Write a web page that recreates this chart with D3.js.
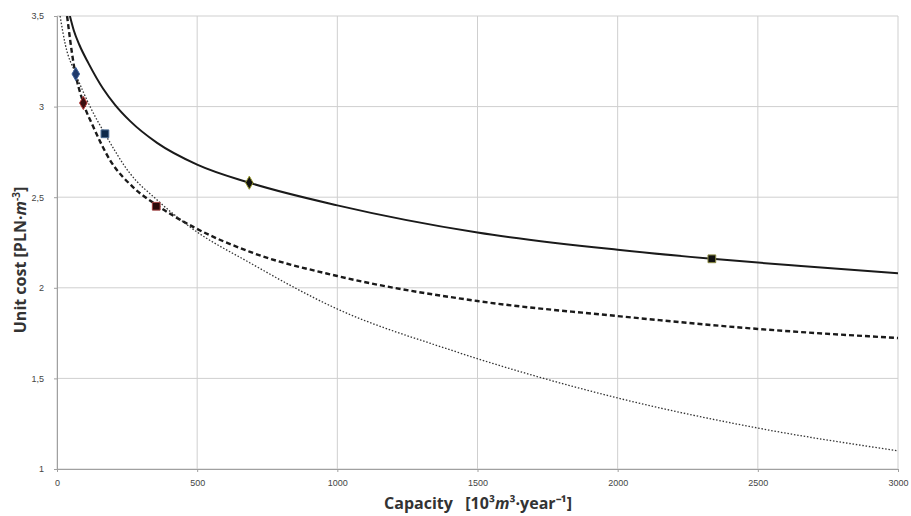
<!DOCTYPE html>
<html>
<head>
<meta charset="utf-8">
<script src="https://cdn.jsdelivr.net/npm/d3@7"></script>
<style>
body { margin: 0; background: #fff; }
svg { font-family: "Open Sans", "Liberation Sans", sans-serif; }
</style>
</head>
<body>
<svg></svg>
<script>
// Chart values
const xTicks = [0, 500, 1000, 1500, 2000, 2500, 3000];
const yTicks = [1, 1.5, 2, 2.5, 3, 3.5];

const solidX = [46, 60, 80, 112, 164, 207, 261, 357, 500, 686, 1000, 1500, 2000, 2336, 2654, 3000];
const solidY = [3.5, 3.42, 3.34, 3.24, 3.10, 3.01, 2.92, 2.80, 2.68, 2.58, 2.455, 2.305, 2.21, 2.16, 2.12, 2.08];

const dashedX = [36, 60, 94, 129, 189, 271, 357, 486, 689, 1000, 1500, 2000, 2500, 3000];
const dashedY = [3.5, 3.23, 3.02, 2.89, 2.705, 2.556, 2.455, 2.336, 2.198, 2.065, 1.927, 1.844, 1.773, 1.723];

const dottedX = [11, 30, 67, 118, 171, 261, 357, 475, 689, 1000, 1404, 2000, 2500, 3000];
const dottedY = [3.5, 3.34, 3.18, 3.0, 2.85, 2.63, 2.485, 2.335, 2.137, 1.883, 1.657, 1.392, 1.226, 1.10];

const markerX = [67, 171, 94, 354, 686, 2336];
const markerY = [3.18, 2.85, 3.02, 2.45, 2.58, 2.16];
const markerShape = ["diamond", "square", "diamond", "square", "diamond", "square"];
const markerFill = ["#1f3a6b", "#0f2a4a", "#3a0f10", "#2a0a0a", "#111", "#111"];
const markerEdge = ["#3b5f9a", "#4a6a90", "#b03030", "#a04040", "#9a9a30", "#8a8a40"];

const width = 911, height = 516;
const margin = {left: 57, right: 13, top: 16, bottom: 47};

const svg = d3.select("svg").attr("width", width).attr("height", height);

const x = d3.scaleLinear().domain([0, 3000]).range([margin.left, width - margin.right]);
const y = d3.scaleLinear().domain([1, 3.5]).range([height - margin.bottom, margin.top]);

const fmt = d => String(d).replace(".", ",");

// gridlines
svg.append("g").selectAll("line").data(xTicks).enter().append("line")
.attr("x1", d => x(d)).attr("x2", d => x(d))
.attr("y1", y(1)).attr("y2", y(3.5))
.attr("stroke", "#cfcfcf").attr("stroke-width", 1);
svg.append("g").selectAll("line").data(yTicks).enter().append("line")
.attr("x1", x(0)).attr("x2", x(3000))
.attr("y1", d => y(d)).attr("y2", d => y(d))
.attr("stroke", "#cfcfcf").attr("stroke-width", 1);

// axes
const xAxis = svg.append("g").attr("transform", `translate(0,${y(1)})`)
.call(d3.axisBottom(x).tickValues(xTicks).tickSize(3).tickPadding(8).tickFormat(d3.format("d")));
const yAxis = svg.append("g").attr("transform", `translate(${x(0)},0)`)
.call(d3.axisLeft(y).tickValues(yTicks).tickSize(3).tickPadding(10).tickFormat(fmt));
[xAxis, yAxis].forEach(a => {
a.selectAll("path, line").attr("stroke", "#a0a0a0");
a.selectAll("text").attr("fill", "#444").style("font-size", "9px");
});

// curves
const line = d3.line().x(d => x(d[0])).y(d => y(d[1])).curve(d3.curveMonotoneX);
const series = [
{xs: solidX, ys: solidY, w: 2, dash: null, c: "#1a1a1a"},
{xs: dashedX, ys: dashedY, w: 2.4, dash: "5,3", c: "#1a1a1a"},
{xs: dottedX, ys: dottedY, w: 1.3, dash: "1.5,1.8", c: "#333"}
];
svg.append("defs").append("clipPath").attr("id", "clip")
.append("rect").attr("x", x(0)).attr("y", y(3.5)).attr("width", x(3000) - x(0)).attr("height", y(1) - y(3.5));
svg.append("g").attr("clip-path", "url(#clip)")
.selectAll("path").data(series).enter().append("path")
.attr("d", s => line(s.xs.map((v, i) => [v, s.ys[i]])))
.attr("fill", "none").attr("stroke", s => s.c)
.attr("stroke-width", s => s.w)
.attr("stroke-dasharray", s => s.dash);

// markers
const sym = {diamond: d3.symbolDiamond, square: d3.symbolSquare};
svg.append("g").selectAll("path").data(markerX).enter().append("path")
.attr("transform", (d, i) => `translate(${x(d)},${y(markerY[i])})`)
.attr("d", (d, i) => d3.symbol().type(sym[markerShape[i]]).size(markerShape[i] === "square" ? 60 : 50)())
.attr("fill", (d, i) => markerFill[i])
.attr("stroke", (d, i) => markerEdge[i]).attr("stroke-width", 1);

// axis titles
const xt = svg.append("text").attr("x", 478).attr("y", 509)
.attr("text-anchor", "middle").style("font-size", "16px").style("font-weight", "bold")
.style("white-space", "pre").attr("fill", "#333");
xt.append("tspan").text("Capacity   [10³");
xt.append("tspan").attr("font-style", "italic").text("m");
xt.append("tspan").text("³·year⁻¹]");

const yt = svg.append("text").attr("transform", "translate(26,260) rotate(-90)")
.attr("text-anchor", "middle").style("font-size", "16px").style("font-weight", "bold").attr("fill", "#333");
yt.append("tspan").text("Unit cost [PLN·");
yt.append("tspan").attr("font-style", "italic").text("m");
yt.append("tspan").attr("dy", -6).style("font-size", "10px").text("-3");
yt.append("tspan").attr("dy", 6).text("]");
</script>
</body>
</html>
